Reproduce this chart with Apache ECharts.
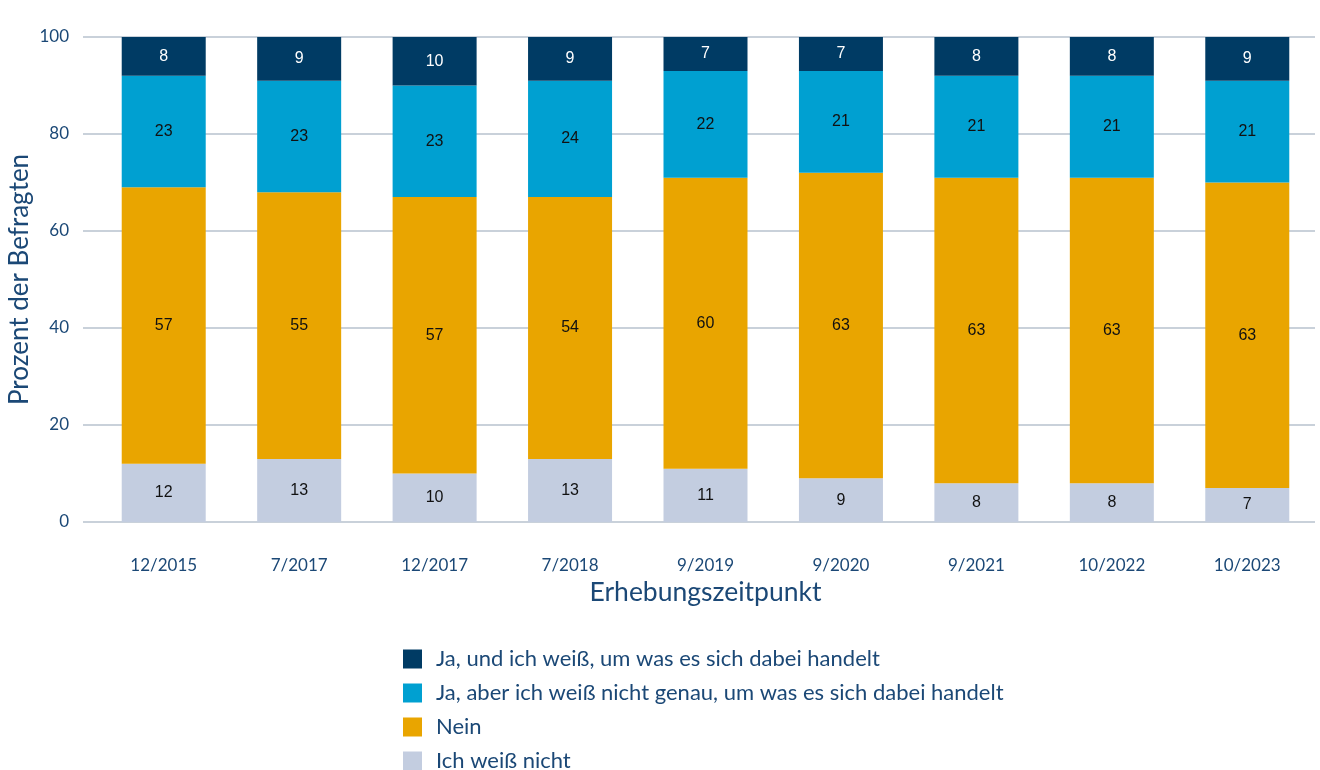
<!DOCTYPE html>
<html>
<head>
<meta charset="utf-8">
<script src="https://cdn.jsdelivr.net/npm/echarts@6/dist/echarts.min.js"></script>
<style>
  html, body { margin: 0; padding: 0; background: #fff; }
  #chart { width: 1320px; height: 770px; }
</style>
</head>
<body>
<div id="chart"></div>
<script>
const categories = ['12/2015', '7/2017', '12/2017', '7/2018', '9/2019', '9/2020', '9/2021', '10/2022', '10/2023']
const weissNicht = [12, 13, 10, 13, 11, 9, 8, 8, 7]
const nein = [57, 55, 57, 54, 60, 63, 63, 63, 63]
const jaAberNicht = [23, 23, 23, 24, 22, 21, 21, 21, 21]
const jaUndWeiss = [8, 9, 10, 9, 7, 7, 8, 8, 9]

const textBlue = '#1b4876'
const gridColor = '#c9d1da'
const uiFont = 'Lato'

function barSeries(name, data, color, labelColor) {
  return {
    name: name,
    type: 'bar',
    stack: 'total',
    barWidth: 84,
    data: data,
    itemStyle: { color: color },
    label: {
      show: true,
      position: 'inside',
      color: labelColor,
      fontFamily: 'Liberation Sans',
      fontSize: 16
    },
    emphasis: { disabled: true }
  }
}

const option = {
  animation: false,
  grid: { left: 96, right: 5, top: 37, bottom: 248, outerBoundsMode: 'none' },
  legend: {
    orient: 'vertical',
    left: 403,
    top: 648,
    padding: 0,
    height: 140,
    itemWidth: 19,
    itemHeight: 19,
    itemGap: 12,
    icon: 'rect',
    data: ['Ja, und ich weiß, um was es sich dabei handelt',
      'Ja, aber ich weiß nicht genau, um was es sich dabei handelt',
      'Nein', 'Ich weiß nicht'],
    textStyle: { color: textBlue, fontFamily: uiFont, fontSize: 22, padding: [0, 0, 0, 9] }
  },
  xAxis: [
    {
      type: 'category',
      data: categories,
      name: 'Erhebungszeitpunkt',
      nameLocation: 'middle',
      nameGap: 55,
      nameTextStyle: { color: textBlue, fontFamily: uiFont, fontSize: 26.5 },
      axisLine: { show: false },
      axisTick: { alignWithLabel: true, length: 23, lineStyle: { color: gridColor, width: 2 } },
      axisLabel: { color: textBlue, fontFamily: uiFont, fontSize: 17, margin: 35 }
    },
    {
      type: 'category',
      position: 'top',
      data: categories,
      axisLine: { show: false },
      axisTick: { alignWithLabel: true, length: 23, lineStyle: { color: gridColor, width: 2 } },
      axisLabel: { show: false }
    }
  ],
  yAxis: {
    type: 'value',
    min: 0,
    max: 100,
    interval: 20,
    name: 'Prozent der Befragten',
    nameLocation: 'middle',
    nameGap: 63,
    nameMoveOverlap: false,
    nameTextStyle: { color: textBlue, fontFamily: uiFont, fontSize: 26 },
    axisLine: { show: false },
    axisTick: { show: true, length: 13, lineStyle: { color: gridColor, width: 2 } },
    axisLabel: { color: textBlue, fontFamily: uiFont, fontSize: 17, margin: 27 },
    splitLine: { lineStyle: { color: gridColor, width: 2 } }
  },
  series: [
    barSeries('Ich weiß nicht', weissNicht, '#c3cde0', '#111'),
    barSeries('Nein', nein, '#e9a500', '#111'),
    barSeries('Ja, aber ich weiß nicht genau, um was es sich dabei handelt', jaAberNicht, '#00a0d1', '#111'),
    barSeries('Ja, und ich weiß, um was es sich dabei handelt', jaUndWeiss, '#003b64', '#fff')
  ]
}

const chart = echarts.init(document.getElementById('chart'))
chart.setOption(option)
</script>
</body>
</html>
